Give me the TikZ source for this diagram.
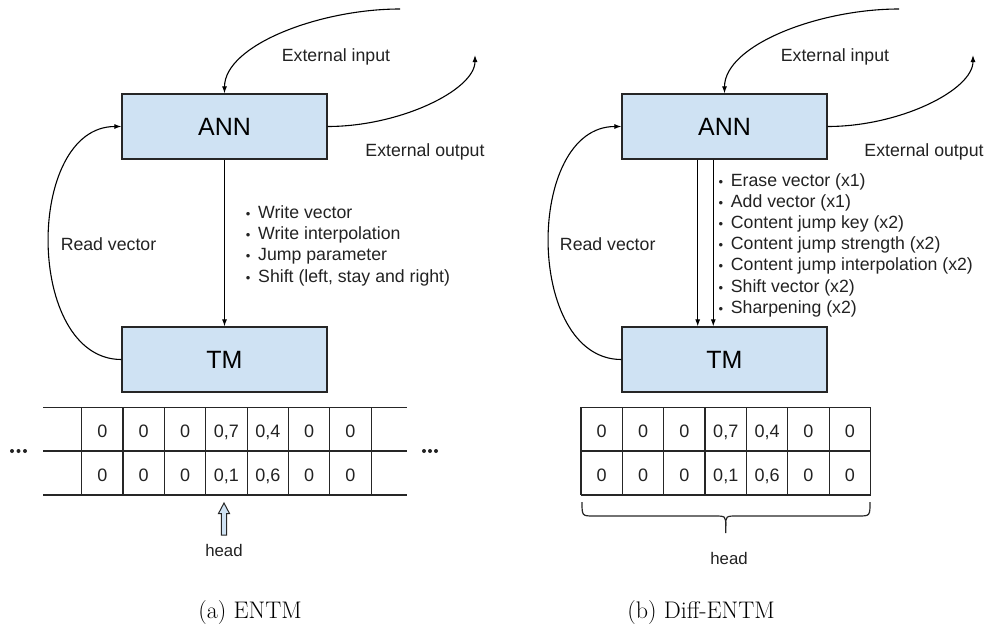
\documentclass[tikz,border=0pt]{standalone}
\usepackage{fontspec}
\usepackage{tikz}
\usetikzlibrary{arrows.meta}
\newfontfamily\arialfont{Liberation Sans}
\definecolor{NetBlue}{RGB}{207,226,243}
\definecolor{InkGray}{RGB}{34,34,34}
\tikzset{
  unit/.style={draw=black!85, fill=NetBlue, line width=1.2pt, minimum width=205pt, minimum height=65pt, inner sep=0pt, font=\arialfont\fontsize{25}{25}\selectfont},
  lbl/.style={inner sep=0pt, anchor=base, text=InkGray, font=\arialfont\fontsize{17.7}{21.2}\selectfont},
  itm/.style={lbl, anchor=base west},
  cell/.style={inner sep=0pt, anchor=base, text=InkGray, font=\arialfont\fontsize{18}{18}\selectfont},
  conn/.style={line width=1.1pt, -{Latex[length=7pt,width=5pt]}},
  tape/.style={line width=1.2pt, draw=black!85},
  subcap/.style={inner sep=0pt, anchor=base, font=\fontsize{24}{26}\selectfont}
}
\newcommand{\blt}{\makebox[12.3pt][l]{\fontsize{13}{13}\selectfont\textbullet}}

\begin{document}
\begin{tikzpicture}[x=1pt,y=-1pt]
\useasboundingbox (0,0) rectangle (985,624);
\def\cw{41.35}

% (a) ENTM
\node[unit] (annA) at (224.5,126.5) {ANN};
\node[unit] (tmA) at (224.5,359.5) {TM};
\coordinate (inA) at (400,9);
\coordinate (outA) at (475,55);
\draw[conn] (inA) .. controls (320,9) and (224.5,45) .. (annA.north);
\draw[conn] (annA.east) .. controls (400,126.5) and (475,90) .. (outA);
\draw[conn] (tmA.west) .. controls (24.7,359.5) and (24.7,126.5) .. (annA.west);
\draw[conn] (annA.south) -- (tmA.north);
\node[lbl] (inLblA) at (336,61) {External input};
\node[lbl] (outLblA) at (425,156) {External output};
\node[lbl] (readLblA) at (108.5,250) {Read vector};
\node[itm] (wA1) at (245.7,218.3) {\blt Write vector};
\node[itm] (wA2) at (245.7,239.5) {\blt Write interpolation};
\node[itm] (wA3) at (245.7,260.8) {\blt Jump parameter};
\node[itm] (wA4) at (245.7,282) {\blt Shift (left, stay and right)};
% tape, open at both ends
\foreach \y in {407.3,451,495} \draw[tape] (43,\y) -- (407,\y);
\foreach \i in {0,...,7} \draw[tape] (81.7+\cw*\i,407.3) -- (81.7+\cw*\i,495);
\foreach \v [count=\i from 0] in {0,0,0,{0,7},{0,4},0,0}
  \node[cell] (ta\i) at (102.4+\cw*\i,437.3) {\v};
\foreach \v [count=\i from 0] in {0,0,0,{0,1},{0,6},0,0}
  \node[cell] (tb\i) at (102.4+\cw*\i,481.7) {\v};
\foreach \x in {12,18.5,25,424,430,436} \fill[InkGray] (\x,451) circle (2pt);
\draw[tape, fill=NetBlue, line width=1pt] (221.3,535) -- (221.3,513.5) -- (218.5,513.5) -- (224,503)
  -- (229.5,513.5) -- (226.7,513.5) -- (226.7,535) -- cycle;
\node[lbl, font=\arialfont\fontsize{16.8}{18}\selectfont] (headA) at (224,556) {head};
\node[subcap] (capA) at (250,618) {(a) ENTM};

% (b) Diff-ENTM
\node[unit] (annB) at (724.5,126.5) {ANN};
\node[unit] (tmB) at (724.5,359.5) {TM};
\coordinate (inB) at (899,9);
\coordinate (outB) at (973,55);
\draw[conn] (inB) .. controls (819,9) and (724.5,45) .. (annB.north);
\draw[conn] (annB.east) .. controls (900,126.5) and (973,90) .. (outB);
\draw[conn] (tmB.west) .. controls (524.7,359.5) and (524.7,126.5) .. (annB.west);
\draw[conn] ([xshift=-26.8pt]annB.south) -- ([xshift=-26.8pt]tmB.north);
\draw[conn] ([xshift=-11.2pt]annB.south) -- ([xshift=-11.2pt]tmB.north);
\node[lbl] (inLblB) at (835,61) {External input};
\node[lbl] (outLblB) at (924,156) {External output};
\node[lbl] (readLblB) at (607.7,250) {Read vector};
\node[itm] (wB1) at (718.4,186) {\blt Erase vector (x1)};
\node[itm] (wB2) at (718.4,207.2) {\blt Add vector (x1)};
\node[itm] (wB3) at (718.4,228.4) {\blt Content jump key (x2)};
\node[itm] (wB4) at (718.4,249.6) {\blt Content jump strength (x2)};
\node[itm] (wB5) at (718.4,270.8) {\blt Content jump interpolation (x2)};
\node[itm] (wB6) at (718.4,292) {\blt Shift vector (x2)};
\node[itm] (wB7) at (718.4,313.2) {\blt Sharpening (x2)};
% memory matrix
\foreach \y in {407.3,451,495} \draw[tape] (581,\y) -- (870.7,\y);
\foreach \i in {0,...,7} \draw[tape] (581+\cw*\i,407.3) -- (581+\cw*\i,495);
\foreach \v [count=\i from 0] in {0,0,0,{0,7},{0,4},0,0}
  \node[cell] (tc\i) at (601.7+\cw*\i,437.3) {\v};
\foreach \v [count=\i from 0] in {0,0,0,{0,1},{0,6},0,0}
  \node[cell] (td\i) at (601.7+\cw*\i,481.7) {\v};
\draw[tape] (582,502) .. controls (582,516) .. (594,516) -- (714,516)
  .. controls (725.7,516) .. (725.7,526) -- (725.7,533);
\draw[tape] (870,502) .. controls (870,516) .. (858,516) -- (737.4,516)
  .. controls (725.7,516) .. (725.7,526);
\node[lbl, font=\arialfont\fontsize{16.8}{18}\selectfont] (headB) at (729,564) {head};
\node[subcap] (capB) at (701,618) {(b) Diff-ENTM};
\end{tikzpicture}
\end{document}
